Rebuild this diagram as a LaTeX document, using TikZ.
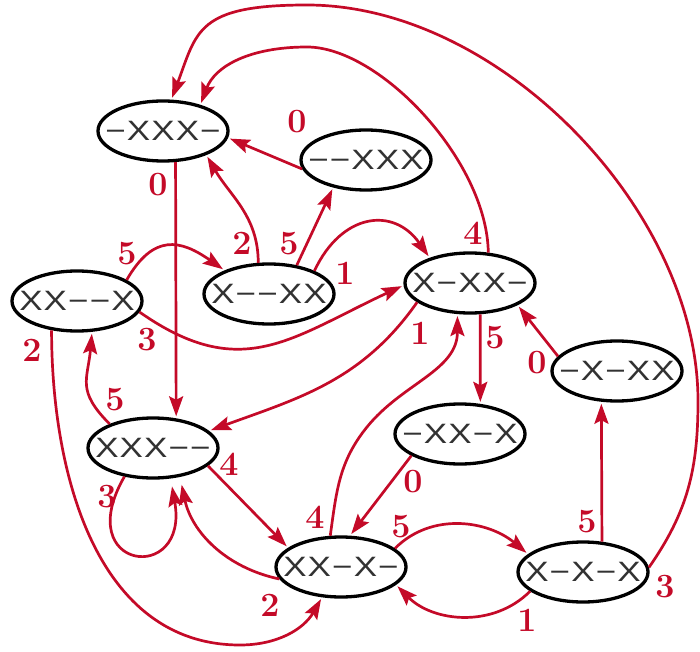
\documentclass[tikz,border=0pt]{standalone}
\usepackage{fontspec}
\newfontfamily\statefont[FakeStretch=1.25,LetterSpace=4]{Liberation Sans}
\usetikzlibrary{shapes.geometric,arrows.meta}
\definecolor{edgered}{RGB}{196,10,40}
\definecolor{statetext}{RGB}{50,50,50}
\newcommand\statelabel[1]{\makebox[0pt]{#1}}

\begin{document}
\begin{tikzpicture}[x=1pt,y=1pt,
  state/.style={ellipse, draw=black, line width=3.3pt, fill=white,
    minimum width=130pt, minimum height=60pt, inner sep=0pt,
    font=\statefont\fontsize{28}{28}\selectfont, text=statetext},
  move/.style={draw=edgered, line width=2.7pt, shorten >=2pt,
    -{Stealth[length=20pt,width=14pt,inset=3.5pt]}},
  lbl/.style={text=edgered, font=\bfseries\fontsize{34}{34}\selectfont, inner sep=0pt}]
\useasboundingbox (0,0) rectangle (700,651);

% states
\node[state] (A) at (163,520) {\statelabel{−XXX−}};
\node[state] (B) at (366,491) {\statelabel{−−XXX}};
\node[state] (C) at (269,357) {\statelabel{X−−XX}};
\node[state] (D) at (77,350)  {\statelabel{XX−−X}};
\node[state] (E) at (470,368) {\statelabel{X−XX−}};
\node[state] (F) at (617,280) {\statelabel{−X−XX}};
\node[state] (G) at (460,217) {\statelabel{−XX−X}};
\node[state] (H) at (153,203) {\statelabel{XXX−−}};
\node[state] (I) at (341,84)  {\statelabel{XX−X−}};
\node[state] (J) at (583,79)  {\statelabel{X−X−X}};

% bends of the long arcs
\coordinate (dbot) at (240,6);
\coordinate (etop) at (307,604);
\coordinate (jright) at (698,250);
\coordinate (jtop) at (307,646);
\coordinate (imid) at (367,224);

% transitions
\draw[move] (A.-68) -- (H.52);
\draw[move] (B.188) -- (A.-6);
\draw[move] (C.109) to[out=90,in=-60] (A.-29);
\draw[move] (C.46) -- (B.-140);
\draw[move] (C.27) to[out=65,in=125,looseness=1.4] (E.148);
\draw[move] (D.23) to[out=60,in=145,looseness=1.4] (C.152);
\draw[move] (D.-10) to[out=-35,in=205,looseness=1.2] (E.182);
\draw[move] (D.-131) to[out=-90,in=180] (dbot) to[out=0,in=-120] (I.-122);
\draw[move] (E.59) .. controls (487,490) and (380,604) .. (etop)
  .. controls (250,604) and (215,585) .. (A.35);
\draw[move] (J.4) to[out=55,in=-90] (jright)
  .. controls (698,440) and (500,646) .. (jtop)
  .. controls (197,646) and (197,620) .. (A.75);
\draw[move] (E.200) to[out=-125,in=20] (H.17);
\draw[move] (E.-72) -- (G.56);
\draw[move] (F.166) -- (E.-25);
\draw[move] (G.204) -- (I.74);
\draw[move,shorten >=8pt] (H.-135) to[out=-120,in=-80,looseness=6] (H.-60);
\draw[move] (H.151) to[out=135,in=-95,looseness=1.3] (D.-64);
\draw[move] (H.-18) -- (I.160);
\draw[move,shorten >=8pt] (I.191) to[out=168,in=-78] (H.-47);
\draw[move] (I.109) to[out=82,in=231] (imid) to[out=51,in=-90] (E.-112);
\draw[move] (I.19) to[out=45,in=140] (J.162);
\draw[move] (J.200) to[out=-135,in=-45] (I.-18);
\draw[move] (J.58) -- (F.-117);

% transition labels
\node[lbl] at (158,466) {0};
\node[lbl] at (297,529) {0};
\node[lbl] at (242,408) {2};
\node[lbl] at (289,407) {5};
\node[lbl] at (345,378) {1};
\node[lbl] at (127,397) {5};
\node[lbl] at (147,311) {3};
\node[lbl] at (32,301) {2};
\node[lbl] at (473,418) {4};
\node[lbl] at (665,64) {3};
\node[lbl] at (420,318) {1};
\node[lbl] at (495,313) {5};
\node[lbl] at (537,288) {0};
\node[lbl] at (413,169) {0};
\node[lbl] at (107,154) {3};
\node[lbl] at (115,251) {5};
\node[lbl] at (229,187) {4};
\node[lbl] at (270,46) {2};
\node[lbl] at (315,134) {4};
\node[lbl] at (401,124) {5};
\node[lbl] at (527,31) {1};
\node[lbl] at (587,129) {5};
\end{tikzpicture}
\end{document}
